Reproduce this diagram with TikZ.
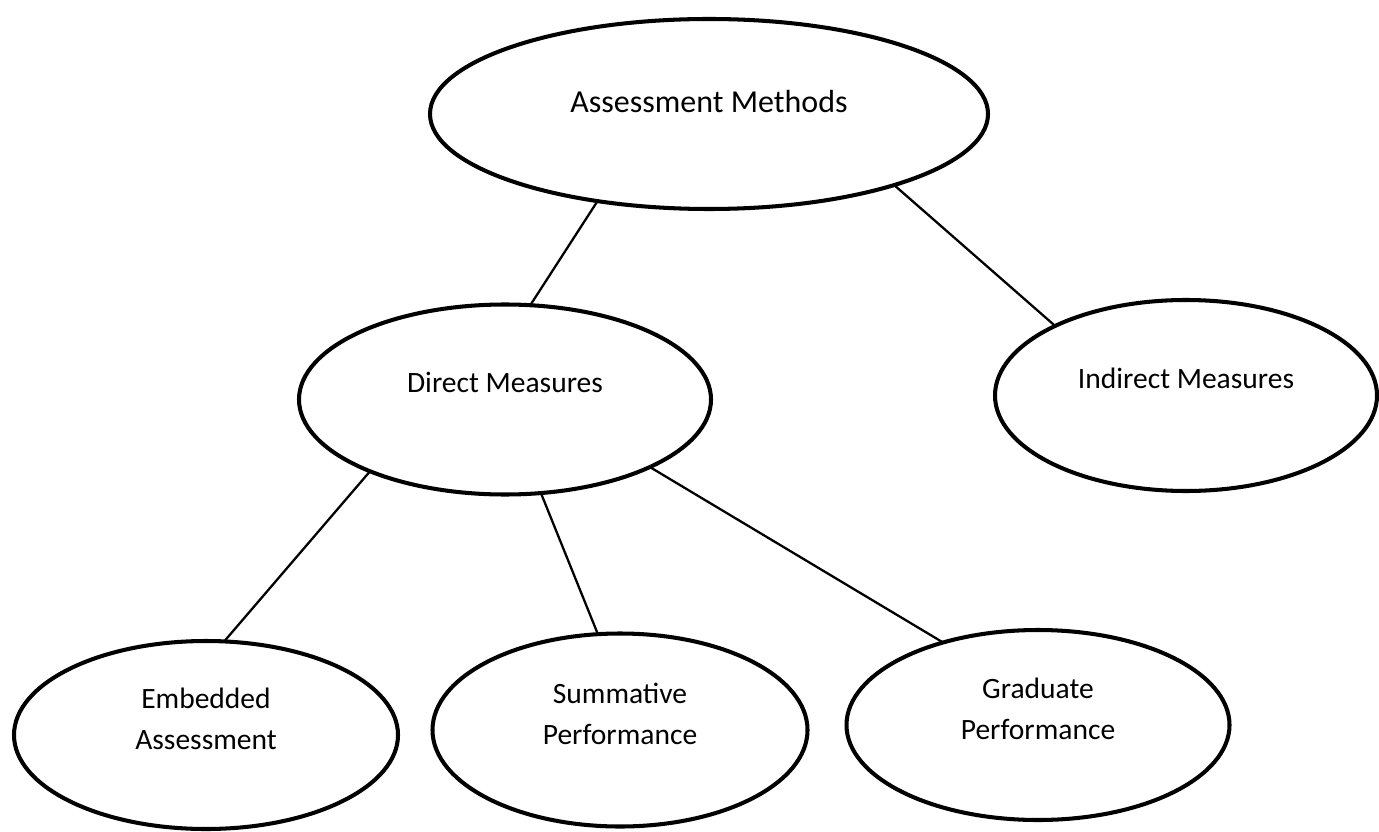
\documentclass[tikz,border=0pt]{standalone}
\usepackage{fontspec}
\setmainfont{Carlito}
\usetikzlibrary{shapes.geometric}
\newcommand{\liftup}[2]{\raisebox{0pt}[\height][\dimexpr\depth+#1\relax]{#2}}
\newcommand{\twoline}[2]{\begin{tabular}{@{}c@{}}#1\\#2\end{tabular}}
\tikzset{
  oval1/.style = {
    shape = ellipse,
    draw = black,
    line width = 2.3pt,
    inner sep = 0pt,
    outer sep = 0pt,
    align = center,
    font = \fontsize{16.8pt}{22.8pt}\selectfont,
  }
}
\tikzset{
  line1/.style = {
    draw = black, line width = 1.3pt,
  }
}

\begin{document}
\begin{tikzpicture}
        \useasboundingbox (0,0) rectangle (27.58,16.62);
        \node[oval1, minimum width = 11.16cm, minimum height = 3.80cm, font = \fontsize{18.2pt}{22pt}\selectfont] (1) at (14.18,14.34) {\liftup{0.48cm}{Assessment Methods}};
        \node[oval1, minimum width = 8.24cm, minimum height = 3.80cm] (2) at (10.10,8.63) {\liftup{0.70cm}{Direct Measures}};
        \node[oval1, minimum width = 7.64cm, minimum height = 3.82cm] (3) at (23.72,8.71) {\liftup{0.70cm}{Indirect Measures}};
        \node[oval1, minimum width = 7.68cm, minimum height = 3.76cm] (4) at (4.12,1.92) {\liftup{0.56cm}{\twoline{Embedded}{Assessment}}};
        \node[oval1, minimum width = 7.50cm, minimum height = 3.86cm] (5) at (12.40,2.02) {\liftup{0.56cm}{\twoline{Summative}{Performance}}};
        \node[oval1, minimum width = 7.66cm, minimum height = 3.80cm] (6) at (20.76,2.12) {\liftup{0.56cm}{\twoline{Graduate}{Performance}}};
        \draw[line1](1.218) -- (2.75);
        \draw[line1](1.339) -- (3.152);
        \draw[line1](2.208) -- (4.79);
        \draw[line1](2.291) -- (5.103);
        \draw[line1](2.335) -- (6.139);
    \end{tikzpicture}
\end{document}
